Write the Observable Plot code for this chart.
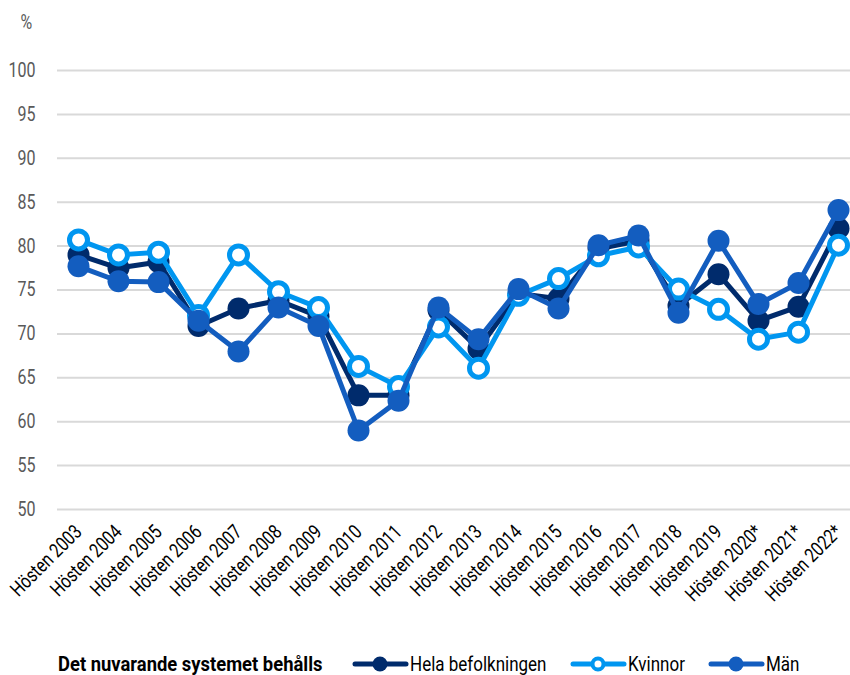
<!DOCTYPE html>
<html>
<head>
<meta charset="utf-8">
<script src="https://cdn.jsdelivr.net/npm/d3@7"></script>
<script src="https://cdn.jsdelivr.net/npm/@observablehq/plot@0.6"></script>
<style>
  body { margin: 0; background: #fff; font-family: Roboto, sans-serif; }
  #chart { position: relative; width: 850px; }
  svg { display: block; }
</style>
</head>
<body>
<div id="chart"></div>
<script>
const years = ["Hösten 2003","Hösten 2004","Hösten 2005","Hösten 2006","Hösten 2007","Hösten 2008","Hösten 2009","Hösten 2010","Hösten 2011","Hösten 2012","Hösten 2013","Hösten 2014","Hösten 2015","Hösten 2016","Hösten 2017","Hösten 2018","Hösten 2019","Hösten 2020*","Hösten 2021*","Hösten 2022*"];
const hela    = [79, 77.5, 78.2, 70.9, 72.9, 73.8, 72, 63, 63, 72.7, 68.3, 74.6, 74, 79.7, 80.6, 73.2, 76.8, 71.5, 73.1, 82];
const kvinnor = [80.7, 79, 79.3, 72.1, 79, 74.8, 73, 66.3, 64, 70.8, 66.1, 74.4, 76.3, 78.9, 79.9, 75.1, 72.8, 69.4, 70.2, 80.1];
const man     = [77.7, 76, 75.9, 71.5, 68, 73, 70.9, 59, 62.4, 73, 69.4, 75.1, 72.9, 80.1, 81.2, 72.4, 80.6, 73.4, 75.8, 84.1];
const seriesNames = ["Hela befolkningen", "Kvinnor", "Män"];
const colors = ["#002b6c", "#0096f0", "#135dbf"];
const yTicks = [50, 55, 60, 65, 70, 75, 80, 85, 90, 95, 100];
const legendTitle = "Det nuvarande systemet behålls";

const rows = [];
[hela, kvinnor, man].forEach((arr, si) => arr.forEach((v, i) => rows.push({year: years[i], value: v, series: seriesNames[si]})));
const bySeries = name => rows.filter(d => d.series === name);

const W = 850, H = 640;
const font = 'Roboto, sans-serif';
const plot = Plot.plot({
  width: W, height: H,
  marginLeft: 57, marginRight: 0, marginTop: 70, marginBottom: H - 509,
  style: {fontFamily: font, background: "#fff"},
  x: {type: "point", domain: years, range: [77, 838], padding: 0, label: null},
  y: {domain: [50, 100], label: null},
  marks: [
    Plot.ruleY(yTicks, {stroke: "#d9d9d9", strokeWidth: 2}),
    Plot.axisY({ticks: yTicks, tickSize: 0, tickPadding: 22, fontSize: 20, fill: "#595959", label: null}),
    Plot.text(["%"], {frameAnchor: "top-left", dx: -37, dy: -56, fontSize: 20, fill: "#595959", textAnchor: "start"}),
    Plot.axisX({tickSize: 0, tickRotate: -45, tickPadding: 19, fontSize: 20, fill: "#000", label: null}),
    ...seriesNames.flatMap((name, si) => [
      Plot.line(bySeries(name), {x: "year", y: "value", stroke: colors[si], strokeWidth: 5}),
      Plot.dot(bySeries(name), {x: "year", y: "value", r: si === 1 ? 9 : 11, fill: si === 1 ? "#fff" : colors[si], stroke: colors[si], strokeWidth: si === 1 ? 5 : 0})
    ])
  ]
});
document.getElementById("chart").appendChild(plot);

// Legend (below the chart)
const legendLeft = [352, 570, 708];
const lg = d3.select("#chart").append("svg").attr("width", W).attr("height", 35)
  .style("font-family", font).style("font-size", "20px");
lg.append("text").attr("x", 58).attr("y", 24).attr("dy", "0.35em").attr("font-weight", "bold").attr("fill", "#000")
  .attr("data-squeeze", "0.92").text(legendTitle);
seriesNames.forEach((name, si) => {
  const x0 = legendLeft[si];
  const g = lg.append("g");
  g.append("line").attr("x1", x0 + 3).attr("x2", x0 + 54).attr("y1", 24).attr("y2", 24)
    .attr("stroke", colors[si]).attr("stroke-width", 5).attr("stroke-linecap", "round");
  g.append("circle").attr("cx", x0 + 28).attr("cy", 24).attr("r", si === 1 ? 5.5 : 7.5)
    .attr("fill", si === 1 ? "#fff" : colors[si]).attr("stroke", colors[si]).attr("stroke-width", si === 1 ? 4 : 0);
  g.append("text").attr("x", x0 + 58).attr("y", 24).attr("dy", "0.35em").attr("fill", "#000")
    .attr("data-squeeze", "0.85").text(name);
});

// condense text horizontally to mimic the narrow typeface of the original
document.querySelectorAll("#chart svg text").forEach(el => {
  const L = el.getComputedTextLength();
  const k = +(el.getAttribute("data-squeeze") || 0.8);
  if (L > 0) {
    el.setAttribute("textLength", (L * k).toFixed(1));
    el.setAttribute("lengthAdjust", "spacingAndGlyphs");
  }
});
</script>
</body>
</html>
